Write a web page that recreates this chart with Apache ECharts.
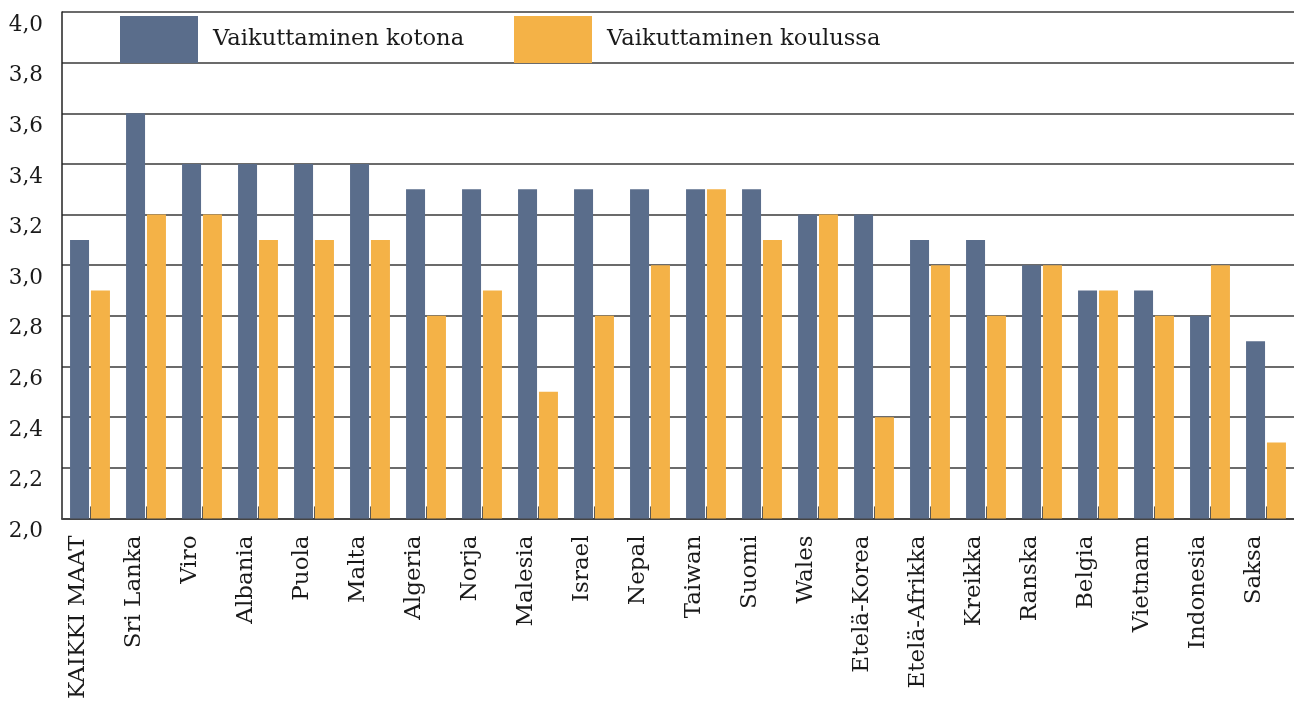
<!DOCTYPE html>
<html>
<head>
<meta charset="utf-8">
<script src="https://cdn.jsdelivr.net/npm/echarts@6/dist/echarts.min.js"></script>
<style>
html,body{margin:0;padding:0;background:#fff;}
#chart{width:1294px;height:702px;}
</style>
</head>
<body>
<div id="chart"></div>
<script>
const categories = ["KAIKKI MAAT","Sri Lanka","Viro","Albania","Puola","Malta","Algeria","Norja","Malesia","Israel","Nepal","Taiwan","Suomi","Wales","Etelä-Korea","Etelä-Afrikka","Kreikka","Ranska","Belgia","Vietnam","Indonesia","Saksa"];
const seriesNames = ["Vaikuttaminen kotona","Vaikuttaminen koulussa"];
const kotona = [3.1,3.6,3.4,3.4,3.4,3.4,3.3,3.3,3.3,3.3,3.3,3.3,3.3,3.2,3.2,3.1,3.1,3.0,2.9,2.9,2.8,2.7];
const koulussa = [2.9,3.2,3.2,3.1,3.1,3.1,2.8,2.9,2.5,2.8,3.0,3.3,3.1,3.2,2.4,3.0,2.8,3.0,2.9,2.8,3.0,2.3];
const yMin = 2.0, yMax = 4.0, yStep = 0.2;

const FONT = "DejaVu Serif";
const TXT = '#1a1a1a';
const chart = echarts.init(document.getElementById('chart'));
const legendBase = {itemWidth: 78, itemHeight: 47, padding: 0, icon: 'rect',
  textStyle: {fontFamily: FONT, fontSize: 22.6, color: TXT, padding: [0,0,0,10]}};
chart.setOption({
  animation: false,
  backgroundColor: '#fff',
  textStyle: {fontFamily: FONT, color: TXT},
  legend: [
    Object.assign({data: [seriesNames[0]], left: 120, top: 16}, legendBase),
    Object.assign({data: [seriesNames[1]], left: 514, top: 16}, legendBase)
  ],
  grid: {left: 62, top: 12, width: 1234, height: 507, containLabel: false},
  xAxis: {
    type: 'category',
    data: categories,
    boundaryGap: true,
    axisLine: {show: true, lineStyle: {color: '#444', width: 2}},
    axisTick: {show: true, alignWithLabel: true, inside: true, length: 12, lineStyle: {color: '#555', width: 1}},
    axisLabel: {rotate: 90, interval: 0, margin: 17, fontFamily: FONT, fontSize: 23, color: TXT, verticalAlign: 'bottom'},
    splitLine: {show: false}
  },
  yAxis: {
    type: 'value',
    min: yMin, max: yMax, interval: yStep,
    axisLine: {show: true, lineStyle: {color: '#222', width: 1.5}},
    axisTick: {show: false},
    axisLabel: {margin: 19, fontFamily: FONT, fontSize: 21.5, color: TXT, verticalAlign: 'top', padding: [2,0,0,0],
      formatter: v => v.toFixed(1).replace('.', ',')},
    splitLine: {show: true, lineStyle: {color: '#3a3a3a', width: 1.5}}
  },
  series: [
    {name: seriesNames[0], type: 'bar', data: kotona, barWidth: 19, barGap: '10%', itemStyle: {color: '#5a6d8b'}},
    {name: seriesNames[1], type: 'bar', data: koulussa, barWidth: 19, barGap: '10%', itemStyle: {color: '#f4b247'}}
  ]
});
</script>
</body>
</html>
